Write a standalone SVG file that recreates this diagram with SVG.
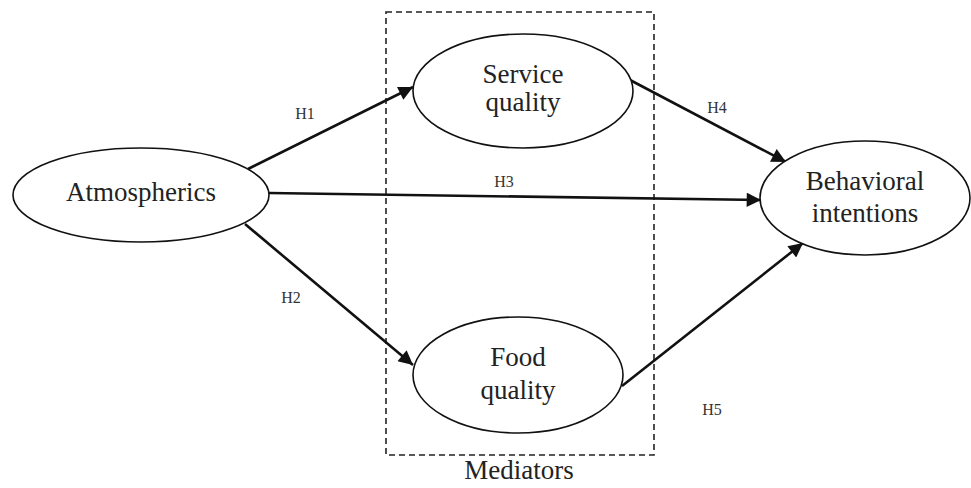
<svg xmlns="http://www.w3.org/2000/svg" width="971" height="488" viewBox="0 0 971 488">
<style>
.node ellipse{fill:#fff;stroke:#111;stroke-width:1.6}
text{font-family:'Liberation Serif','Times New Roman','DejaVu Serif',serif;fill:#222;text-anchor:middle}
.t{font-size:27px}
.lbl{font-size:16px;fill:#333}
.edge{stroke:#111;stroke-width:2.6;fill:none;marker-end:url(#ah)}
</style>
<defs>
<marker id="ah" viewBox="0 0 10 10" refX="10" refY="5" markerWidth="7" markerHeight="5.5" markerUnits="strokeWidth" orient="auto">
<path d="M0,0 L10,5 L0,10 z" fill="#111"/>
</marker>
</defs>
<rect width="971" height="488" fill="#fff"/>
<g id="mediators">
<rect x="386" y="12" width="268" height="443" fill="none" stroke="#222" stroke-width="1.6" stroke-dasharray="6,4"/>
<text class="t" x="519" y="479">Mediators</text>
</g>
<g id="connectors">
<line class="edge" x1="248" y1="169" x2="413" y2="87"/>
<line class="edge" x1="269" y1="193" x2="761" y2="200"/>
<line class="edge" x1="245" y1="224" x2="413" y2="365"/>
<line class="edge" x1="630" y1="80" x2="786" y2="162"/>
<line class="edge" x1="622" y1="386" x2="803" y2="243"/>
<text class="lbl" x="305" y="119">H1</text>
<text class="lbl" x="291" y="303">H2</text>
<text class="lbl" x="504" y="187">H3</text>
<text class="lbl" x="717" y="113">H4</text>
<text class="lbl" x="712" y="415">H5</text>
</g>
<g id="atmospherics" class="node">
<ellipse cx="141" cy="195" rx="128" ry="47"/>
<text class="t" x="141" y="201">Atmospherics</text>
</g>
<g id="service" class="node">
<ellipse cx="523" cy="91" rx="110" ry="57"/>
<text class="t" x="523" y="83">Service</text>
<text class="t" x="523" y="111">quality</text>
</g>
<g id="food" class="node">
<ellipse cx="518" cy="375" rx="105" ry="58"/>
<text class="t" x="518" y="366">Food</text>
<text class="t" x="518" y="399">quality</text>
</g>
<g id="behavioral" class="node">
<ellipse cx="865" cy="198" rx="105" ry="57"/>
<text class="t" x="865" y="190">Behavioral</text>
<text class="t" x="865" y="222">intentions</text>
</g>
</svg>
